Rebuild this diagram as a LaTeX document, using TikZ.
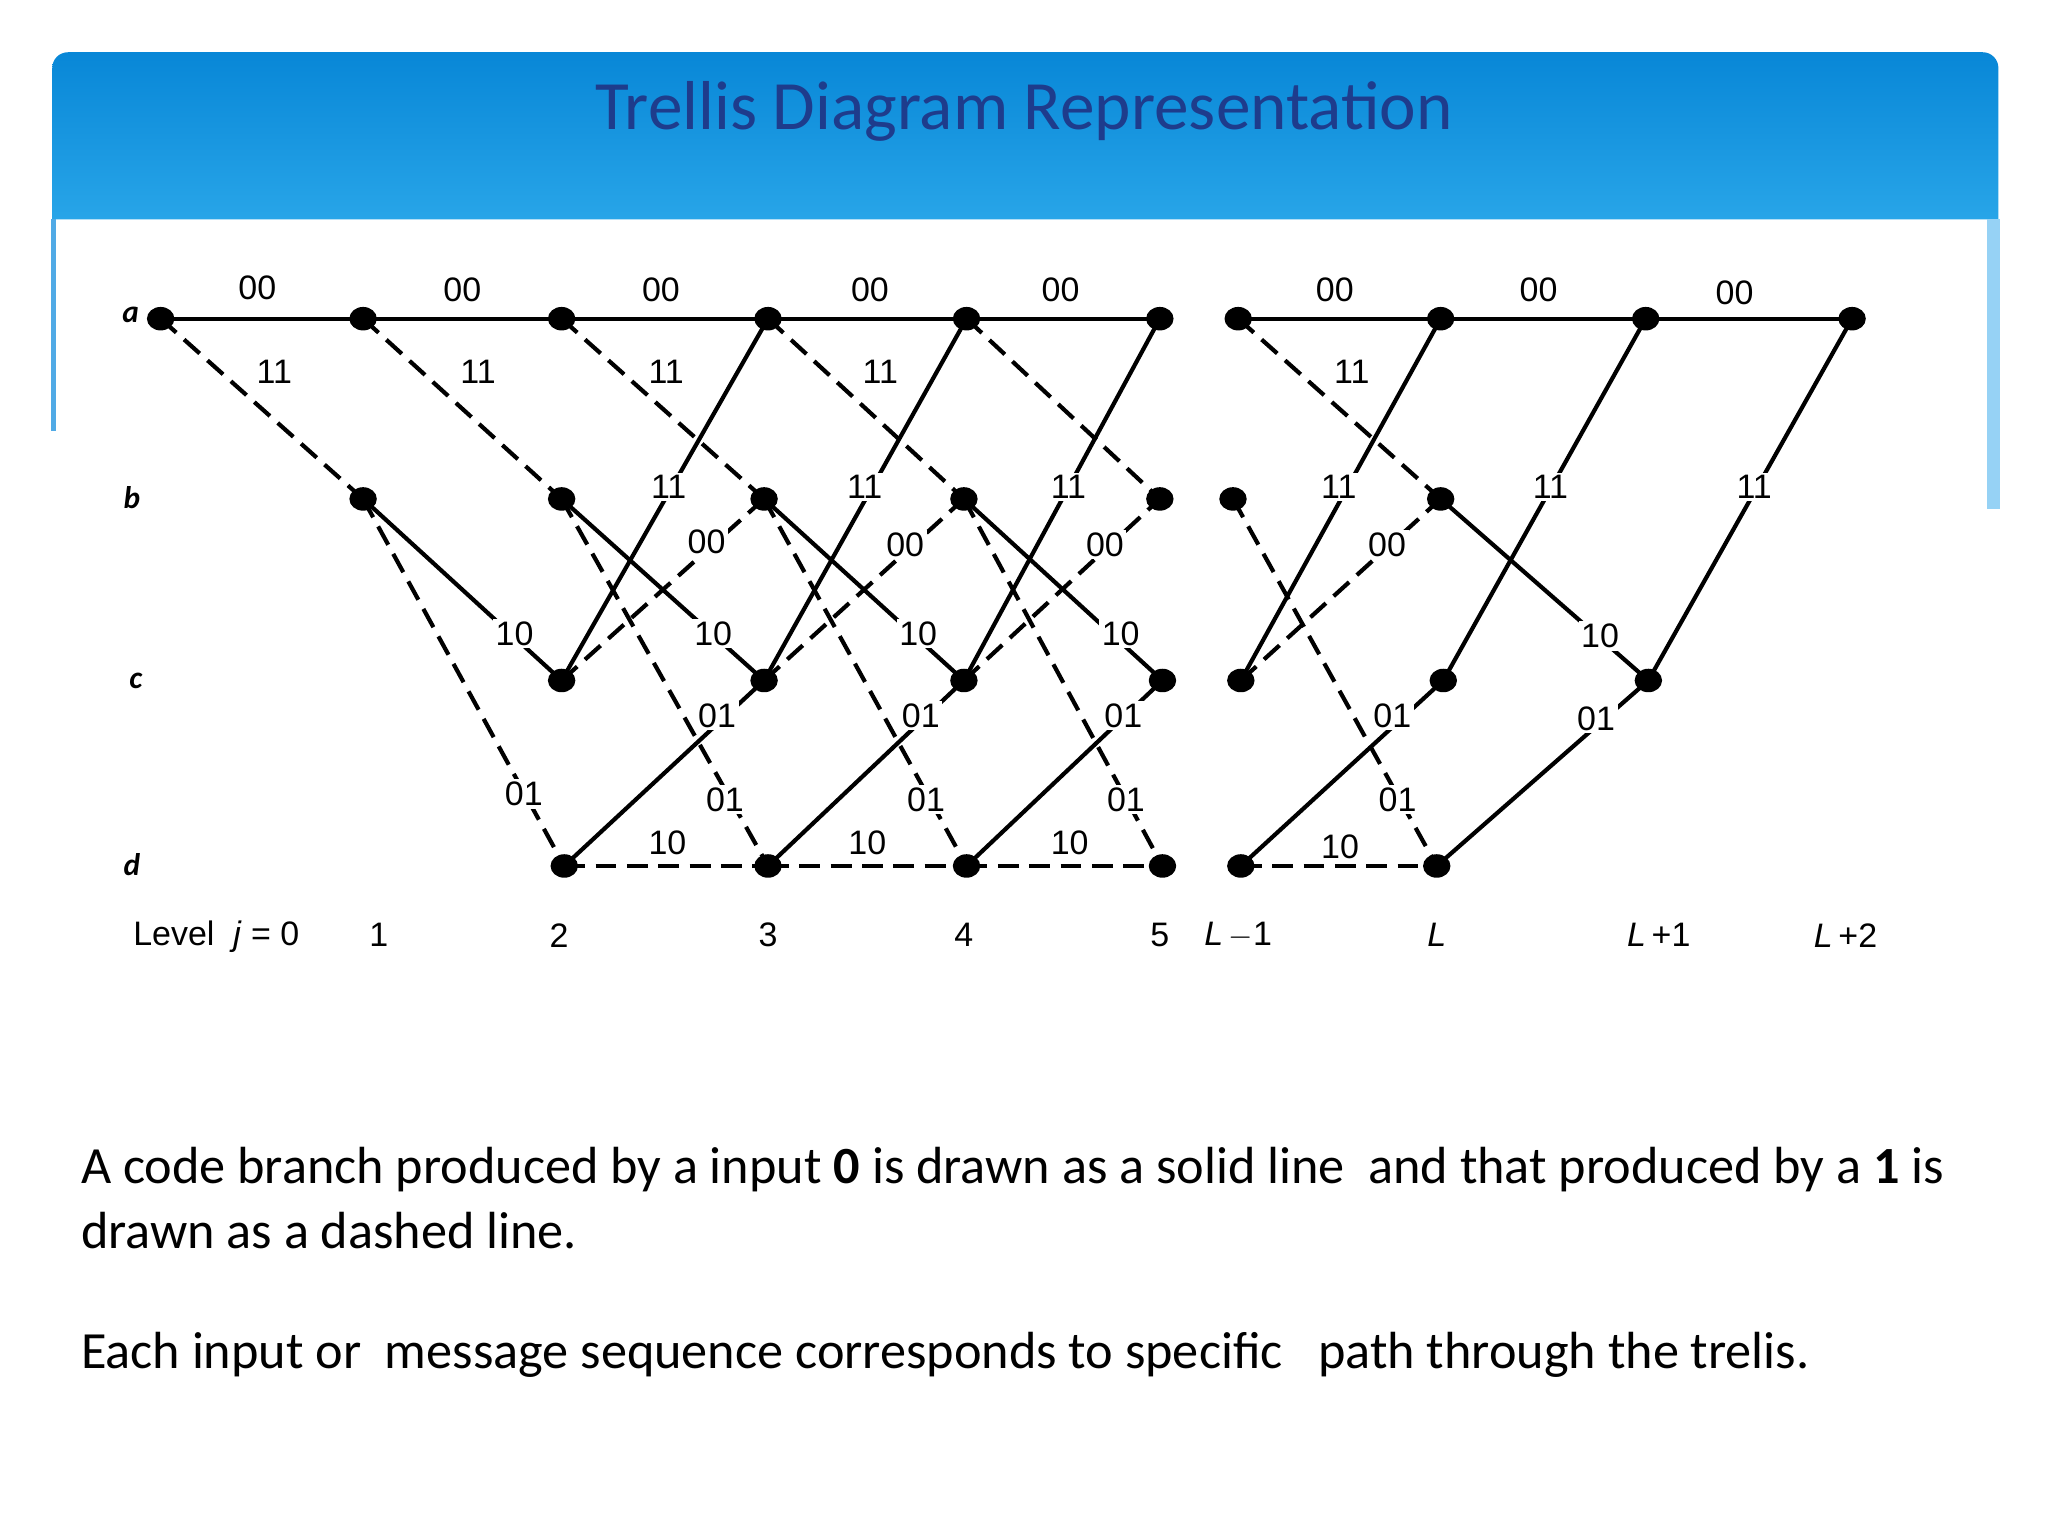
\documentclass[tikz,border=0pt]{standalone}
\usepackage{fontspec}
\setmainfont{Carlito}
\newfontfamily\lab{Liberation Sans}
\usetikzlibrary{shapes.geometric}
\definecolor{hdtop}{RGB}{8,135,215}
\definecolor{hdbot}{RGB}{40,165,232}
\definecolor{bordl}{RGB}{80,170,230}
\definecolor{bordr}{RGB}{150,210,245}
\definecolor{ttl}{RGB}{30,60,140}
\begin{document}
\begin{tikzpicture}[x=0.5pt,y=-0.5pt,
  dot/.style={ellipse,fill=black,minimum width=10.5pt,minimum height=9pt,inner sep=0pt},
  sol/.style={line width=1.6pt},
  dsh/.style={line width=1.6pt,dash pattern=on 8pt off 4pt},
  lb/.style={font=\lab\fontsize{13}{13}\selectfont,fill=white,inner sep=1pt},
  lv/.style={font=\lab\fontsize{13}{13}\selectfont},
  rw/.style={font=\bfseries\itshape\fontsize{12}{12}\selectfont}]
\fill[white] (0,0) rectangle (1568,1176);
\useasboundingbox (0,0) rectangle (1568,1176);
\shade[top color=hdtop,bottom color=hdbot]
  (40,168) -- (40,52) arc[start angle=180,end angle=90,radius=6pt] -- (1518,40) arc[start angle=90,end angle=0,radius=6pt] -- (1530,168) -- cycle;
\draw[bordl,line width=2pt] (41,168) -- (41,330);
\draw[bordr,line width=5pt] (1526,168) -- (1526,390);
\node[text=ttl,font=\fontsize{26.5}{26.5}\selectfont] (title) at (784,85) {Trellis Diagram Representation};
\foreach \n/\x in {0/123,1/278,2/430,3/588,4/740,5/888,6/948,7/1103,8/1260,9/1418}{
  \coordinate (a\n) at (\x,244);
}
\foreach \n/\x in {1/278,2/430,3/585,4/738,5/888,6/944,7/1103}{\coordinate (b\n) at (\x,382);}
\foreach \n/\x in {2/430,3/585,4/738,5/890,6/950,7/1105,8/1262}{\coordinate (c\n) at (\x,521);}
\foreach \n/\x in {2/432,3/588,4/740,5/890,6/950,7/1100}{\coordinate (d\n) at (\x,663);}
\draw[sol] (a0)--(a1); \draw[dsh] (a0)--(b1);
\draw[sol] (a1)--(a2); \draw[dsh] (a1)--(b2); \draw[sol] (b1)--(c2); \draw[dsh] (b1)--(d2);
\foreach \i/\j in {2/3,3/4,4/5}{
  \draw[sol] (a\i)--(a\j); \draw[dsh] (a\i)--(b\j);
  \draw[sol] (b\i)--(c\j); \draw[dsh] (b\i)--(d\j);
  \draw[sol] (c\i)--(a\j); \draw[dsh] (c\i)--(b\j);
  \draw[sol] (d\i)--(c\j); \draw[dsh] (d\i)--(d\j);
}
\draw[sol] (a6)--(a7); \draw[dsh] (a6)--(b7); \draw[dsh] (b6)--(d7);
\draw[sol] (c6)--(a7); \draw[dsh] (c6)--(b7); \draw[sol] (d6)--(c7); \draw[dsh] (d6)--(d7);
\draw[sol] (a7)--(a8); \draw[sol] (b7)--(c8); \draw[sol] (c7)--(a8); \draw[sol] (d7)--(c8);
\draw[sol] (a8)--(a9); \draw[sol] (c8)--(a9);
\foreach \p in {a0,a1,a2,a3,a4,a5,a6,a7,a8,a9,b1,b2,b3,b4,b5,b6,b7,c2,c3,c4,c5,c6,c7,c8,d2,d3,d4,d5,d6,d7}
  \node[dot] (n\p) at (\p) {};
\foreach \x/\y/\t [count=\k] in {197/220/00,354/222/00,506/222/00,666/222/00,812/222/00,1022/222/00,1178/222/00,1328/224/00,
  210/285/11,366/285/11,510/285/11,674/285/11,1035/285/11,
  512/373/11,662/373/11,818/373/11,1025/373/11,1187/373/11,1343/373/11,
  541/415/00,693/417/00,846/417/00,1062/417/00,
  394/485/10,546/485/10,703/485/10,858/485/10,1225/487/10,
  549/548/01,705/548/01,860/548/01,1066/548/01,1222/550/01,
  401/608/01,555/612/01,709/612/01,862/612/01,1070/612/01,
  511/645/10,664/645/10,819/645/10,1026/648/10}
  \node[lb] (l\k) at (\x,\y) {\t};
\node[rw] (ra) at (100,241) {a};
\node[rw] (rb) at (101,381) {b};
\node[rw] (rc) at (104,521) {c};
\node[rw] (rd) at (101,662) {d};
\node[lv,anchor=west] (lev) at (95,717) {Level\ \ \textit{j} = 0};
\foreach \x/\t [count=\k] in {290/1,428/2,588/3,738/4,888/5,948/\textit{L}\,$-$1,1100/\textit{L},1270/\textit{L}\,+1,1413/\textit{L}\,+2}
  \node[lv] (lv\k) at (\x,716) {\t};
\node[anchor=west,align=left,font=\fontsize{20}{25}\selectfont] (t1) at (55,917) {A code branch produced by a input \textbf{0} is drawn as a solid line\ \ and that produced by a \textbf{1} is\\drawn as a dashed line.};
\node[anchor=west,font=\fontsize{20}{25}\selectfont] (t2) at (55,1037) {Each input or\ \ message sequence corresponds to specific\ \ \ path through the trelis.};
\end{tikzpicture}
\end{document}
